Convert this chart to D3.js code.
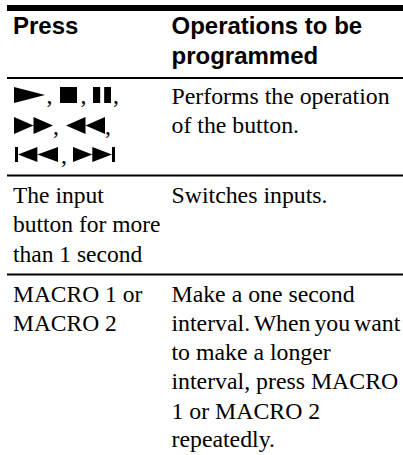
<!DOCTYPE html>
<html><head><meta charset="utf-8">
<script src="https://cdn.jsdelivr.net/npm/d3@7"></script>
<style>html,body{margin:0;padding:0;background:#fff}svg{display:block}</style>
</head><body><svg id="c" width="403" height="455"></svg>
<script>
const headerLabels = [["Press"], ["Operations to be", "programmed"]];
const pressLines = [["The input", "button for more", "than 1 second"], ["MACRO 1 or", "MACRO 2"]];
const opLines = [["Performs the operation", "of the button."], ["Switches inputs."],
  ["Make a one second", "interval. When you want", "to make a longer", "interval, press MACRO", "1 or MACRO 2", "repeatedly."]];
const ruleYs = [8, 78, 175.5, 274.5];
const ruleW = [6, 2, 2, 2];
const headerBase = [34, 64];
const opBase = [[103.5, 132.5], [202.5], [301.5, 330.5, 359.5, 388.5, 418.5, 446.5]];
const pressBase = [[202.5, 231.5, 261.5], [301.5, 330.5]];
const colX = [13, 171.5];
const tightLines = ["interval. When you want"];
const svg = d3.select("#c");
svg.selectAll("line.r").data(ruleYs).join("line").attr("class", "r")
  .attr("x1", 7).attr("x2", 403).attr("y1", d => d).attr("y2", d => d)
  .attr("stroke", "#000").attr("stroke-width", (d, i) => ruleW[i]);
function text(s, x, y, bold, size) {
  svg.append("text").attr("x", x).attr("y", y).text(s)
    .attr("font-family", bold ? "'Liberation Sans'" : "'Liberation Serif'")
    .attr("font-weight", bold ? 700 : 400).attr("font-size", size || (bold ? 24 : 23.8)).attr("fill", "#000")
    .attr("word-spacing", tightLines.includes(s) ? -2 : 0);
}
text(headerLabels[0][0], colX[0], headerBase[0], true);
headerLabels[1].forEach((s, i) => text(s, colX[1], headerBase[i], true));
pressLines.forEach((r, i) => r.forEach((s, j) => text(s, colX[0], pressBase[i][j], false, 23.5)));
opLines.forEach((r, i) => r.forEach((s, j) => text(s, colX[1], opBase[i][j])));
// transport button glyphs: type, x, baseline, width, height
const glyphs = [
  ["play", 14, 103, 31, 16], ["stop", 60, 103, 17, 16], ["pause", 93, 103, 18, 16],
  ["ff", 14, 134, 39, 17], ["rew", 66, 134, 39, 17],
  ["prev", 15, 162, 43, 15], ["next", 73, 162, 42, 15]
];
const commas = [[46.5, 103], [80.5, 103], [113, 103], [53, 134], [105, 134], [61, 163]];
function tri(p, x0, x1, t, b) { p.moveTo(x0, t); p.lineTo(x1, (t + b) / 2); p.lineTo(x0, b); p.closePath(); }
function rect(p, x, t, w, h) { p.rect(x, t, w, h); }
function glyph([k, x, b, w, h]) {
  const p = d3.path(), t = b - h;
  if (k === "play") tri(p, x, x + w, t, b);
  if (k === "stop") rect(p, x, t, w, h);
  if (k === "pause") { rect(p, x, t, w * .4, h); rect(p, x + w * .62, t, w * .38, h); }
  if (k === "ff") { tri(p, x, x + w / 2, t, b); tri(p, x + w / 2, x + w, t, b); }
  if (k === "rew") { tri(p, x + w / 2, x, t, b); tri(p, x + w, x + w / 2, t, b); }
  if (k === "prev") { rect(p, x, t, 3, h); tri(p, x + w * .52, x + 3, t, b); tri(p, x + w, x + w * .52, t, b); }
  if (k === "next") { tri(p, x, x + w * .46, t, b); tri(p, x + w * .46, x + w - 3, t, b); rect(p, x + w - 3, t, 3, h); }
  return p.toString();
}
svg.selectAll("path.g").data(glyphs).join("path").attr("class", "g").attr("d", glyph).attr("fill", "#000");
commas.forEach(c => text(",", c[0], c[1]));
</script></body></html>
